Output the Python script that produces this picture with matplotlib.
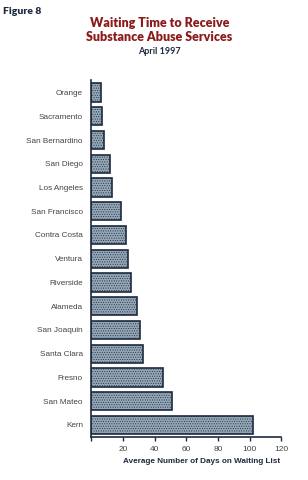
import matplotlib
matplotlib.use('Agg')
import matplotlib.pyplot as plt

# counties, top to bottom
counties = ['Orange', 'Sacramento', 'San Bernardino', 'San Diego', 'Los Angeles',
            'San Francisco', 'Contra Costa', 'Ventura', 'Riverside', 'Alameda',
            'San Joaquin', 'Santa Clara', 'Fresno', 'San Mateo', 'Kern']
# average days on waiting list
days = [6, 7, 8, 12, 13, 19, 22, 23, 25, 29, 31, 32.5, 45, 51, 102]
xticks = [0, 20, 40, 60, 80, 100, 120]
xtick_labels = ['', '20', '40', '60', '80', '100', '120']

navy = '#1c2b3f'
plt.rcParams['font.family'] = ['Liberation Sans', 'DejaVu Sans']
plt.rcParams['hatch.color'] = '#7a8c9d'
plt.rcParams['hatch.linewidth'] = 0.4

fig = plt.figure(figsize=(3.08, 4.8), dpi=100)
ax = fig.add_axes([0.2964, 0.0902, 0.617, 0.7431])

ypos = list(range(len(counties)))
ax.barh(ypos, days, height=0.77, color='#95a6b6', edgecolor=navy,
        linewidth=1.2, hatch='.......')
ax.set_ylim(len(counties) - 0.5, -0.53)
ax.set_xlim(0, 120)
ax.set_yticks(ypos)
ax.set_yticklabels(counties, fontsize=5.9, color='#444444')
ax.set_xticks(xticks)
ax.set_xticklabels(xtick_labels, fontsize=6.0, color='#444444')
ax.tick_params(axis='y', length=0, pad=6)
ax.tick_params(axis='x', direction='out', length=3, width=1, color=navy, pad=4)
for s in ['top', 'right']:
    ax.spines[s].set_visible(False)
for s in ['left', 'bottom']:
    ax.spines[s].set_color(navy)
    ax.spines[s].set_linewidth(1.2)
ax.set_xlabel('Average Number of Days on Waiting List', fontsize=5.9,
              fontweight='bold', color=navy, labelpad=3, x=0.58)

heavy = ['Lato', 'Liberation Sans', 'DejaVu Sans']
fig.text(0.01, 0.985, 'Figure 8', fontsize=7.5, fontweight='heavy', color=navy,
         family=heavy, va='top')
fig.text(0.518, 0.938, 'Waiting Time to Receive\nSubstance Abuse Services',
         fontsize=9, fontweight='heavy', color='#8b1a1a', ha='center', va='center',
         linespacing=1.2, family=heavy)
fig.text(0.518, 0.893, 'April 1997', fontsize=6.5, fontweight='bold', color=navy,
         ha='center', va='center', family=heavy)

fig.savefig('out.png', dpi=100, facecolor='white')
